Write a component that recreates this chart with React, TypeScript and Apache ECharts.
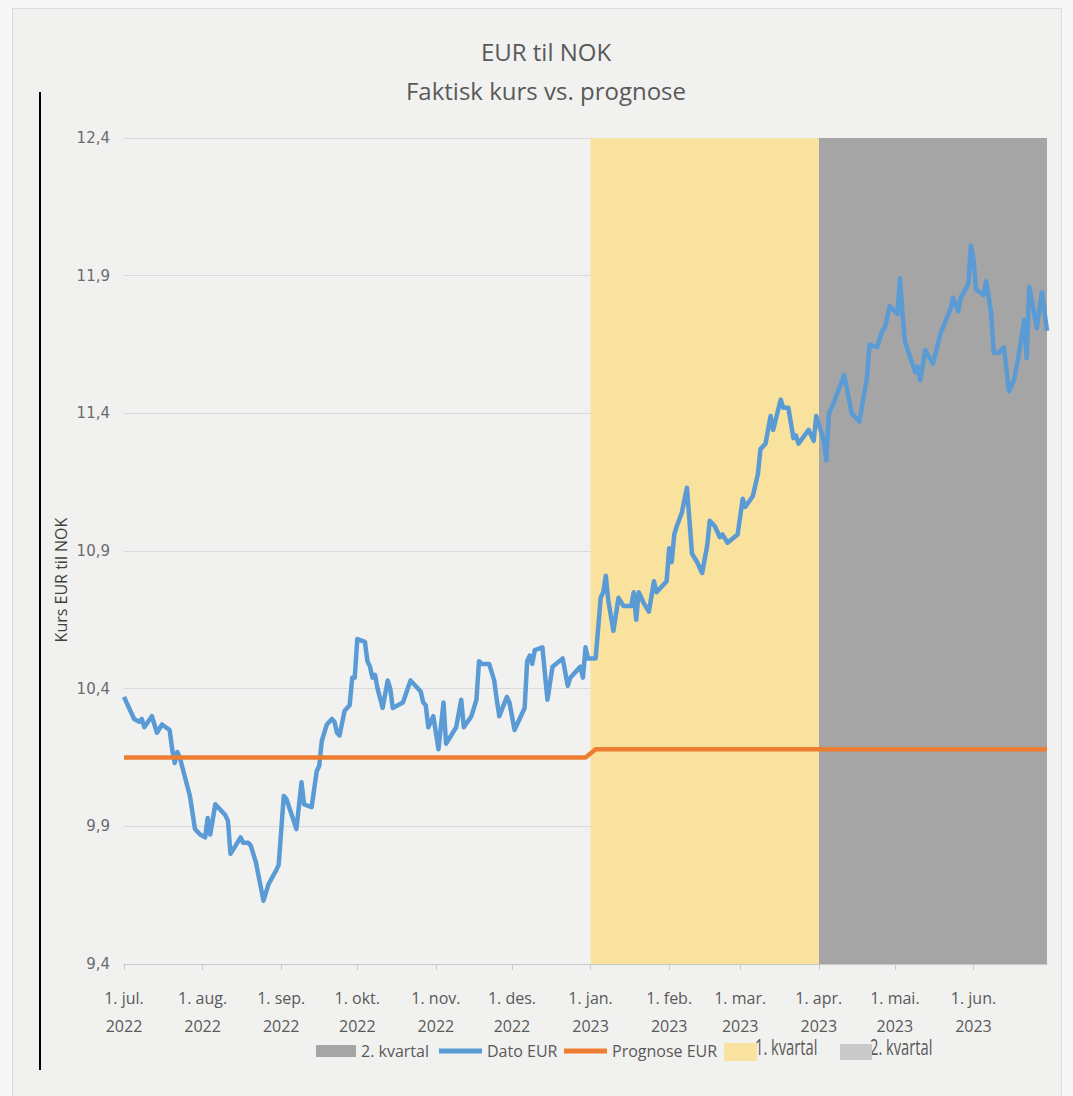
import React, { useEffect, useRef } from 'react';
import * as echarts from 'echarts';

// ---- data ----
const datoDates = [
  '2022-07-01','2022-07-03','2022-07-05','2022-07-07','2022-07-08','2022-07-09','2022-07-12','2022-07-14','2022-07-16','2022-07-19',
  '2022-07-20','2022-07-21','2022-07-22','2022-07-23','2022-07-25','2022-07-27','2022-07-29','2022-07-31','2022-08-02','2022-08-03',
  '2022-08-04','2022-08-06','2022-08-10','2022-08-11','2022-08-12','2022-08-16','2022-08-17','2022-08-19','2022-08-20','2022-08-22',
  '2022-08-25','2022-08-27','2022-08-30','2022-08-31','2022-09-02','2022-09-03','2022-09-07','2022-09-09','2022-09-10','2022-09-13',
  '2022-09-15','2022-09-16','2022-09-17','2022-09-19','2022-09-21','2022-09-22','2022-09-23','2022-09-24','2022-09-26','2022-09-28',
  '2022-09-29','2022-09-30','2022-10-01','2022-10-04','2022-10-05','2022-10-06','2022-10-07','2022-10-08','2022-10-09','2022-10-11',
  '2022-10-13','2022-10-14','2022-10-15','2022-10-17','2022-10-19','2022-10-22','2022-10-24','2022-10-26','2022-10-27','2022-10-28',
  '2022-10-29','2022-10-31','2022-11-02','2022-11-04','2022-11-05','2022-11-07','2022-11-09','2022-11-11','2022-11-12','2022-11-15',
  '2022-11-17','2022-11-18','2022-11-19','2022-11-22','2022-11-24','2022-11-25','2022-11-26','2022-11-29','2022-11-30','2022-12-02',
  '2022-12-04','2022-12-06','2022-12-07','2022-12-08','2022-12-09','2022-12-10','2022-12-13','2022-12-15','2022-12-17','2022-12-21',
  '2022-12-23','2022-12-24','2022-12-27','2022-12-28','2022-12-29','2022-12-30','2022-12-31','2023-01-03','2023-01-05','2023-01-06',
  '2023-01-07','2023-01-08','2023-01-10','2023-01-12','2023-01-14','2023-01-17','2023-01-18','2023-01-19','2023-01-20','2023-01-22',
  '2023-01-24','2023-01-26','2023-01-27','2023-01-31','2023-02-01','2023-02-02','2023-02-03','2023-02-04','2023-02-06','2023-02-08',
  '2023-02-10','2023-02-12','2023-02-14','2023-02-16','2023-02-17','2023-02-19','2023-02-21','2023-02-22','2023-02-24','2023-02-28',
  '2023-03-02','2023-03-03','2023-03-06','2023-03-08','2023-03-09','2023-03-11','2023-03-13','2023-03-14','2023-03-17','2023-03-18',
  '2023-03-20','2023-03-22','2023-03-23','2023-03-24','2023-03-28','2023-03-30','2023-03-31','2023-04-03','2023-04-04','2023-04-05',
  '2023-04-07','2023-04-11','2023-04-14','2023-04-17','2023-04-20','2023-04-21','2023-04-24','2023-04-26','2023-04-27','2023-04-29',
  '2023-05-02','2023-05-03','2023-05-04','2023-05-05','2023-05-09','2023-05-10','2023-05-11','2023-05-13','2023-05-16','2023-05-19',
  '2023-05-23','2023-05-24','2023-05-26','2023-05-27','2023-05-30','2023-05-31','2023-06-01','2023-06-02','2023-06-05','2023-06-06',
  '2023-06-08','2023-06-09','2023-06-11','2023-06-13','2023-06-15','2023-06-17','2023-06-19','2023-06-21','2023-06-22','2023-06-23',
  '2023-06-26','2023-06-28','2023-06-30'
];
const datoValues = [
  10.37,10.33,10.29,10.28,10.29,10.26,10.30,10.24,10.27,10.25,
  10.18,10.13,10.17,10.15,10.08,10.01,9.89,9.87,9.86,9.93,
  9.87,9.98,9.94,9.92,9.80,9.86,9.84,9.84,9.83,9.77,
  9.63,9.69,9.74,9.76,10.01,10.00,9.89,10.06,9.98,9.97,
  10.10,10.12,10.21,10.27,10.29,10.28,10.24,10.23,10.32,10.34,
  10.44,10.44,10.58,10.57,10.50,10.48,10.44,10.45,10.40,10.33,
  10.43,10.40,10.33,10.34,10.35,10.43,10.41,10.39,10.35,10.34,
  10.26,10.30,10.18,10.35,10.20,10.23,10.26,10.36,10.26,10.30,
  10.36,10.50,10.49,10.49,10.43,10.36,10.30,10.37,10.35,10.25,
  10.29,10.33,10.50,10.52,10.49,10.54,10.55,10.36,10.48,10.51,
  10.41,10.44,10.47,10.48,10.44,10.55,10.51,10.51,10.73,10.75,
  10.81,10.72,10.61,10.73,10.70,10.70,10.75,10.65,10.75,10.71,
  10.68,10.79,10.75,10.79,10.91,10.86,10.96,10.99,11.04,11.13,
  10.89,10.86,10.82,10.92,11.01,10.99,10.95,10.96,10.93,10.96,
  11.09,11.06,11.10,11.18,11.27,11.29,11.39,11.34,11.45,11.42,
  11.42,11.31,11.32,11.29,11.34,11.30,11.39,11.30,11.23,11.40,
  11.44,11.54,11.40,11.37,11.53,11.65,11.64,11.70,11.71,11.79,
  11.76,11.89,11.76,11.66,11.55,11.57,11.52,11.63,11.58,11.69,
  11.78,11.82,11.77,11.82,11.87,12.01,11.96,11.85,11.83,11.88,
  11.76,11.62,11.62,11.64,11.48,11.52,11.62,11.74,11.60,11.86,
  11.71,11.84,11.70
];
const prognoseDates = ['2022-07-01', '2022-12-30', '2023-01-03', '2023-06-30'];
const prognoseValues = [10.15, 10.15, 10.18, 10.18];
const kvartal1Dates = ['2023-01-01', '2023-04-01'];
const kvartal1Values = [12.4, 12.4];
const kvartal2Dates = ['2023-04-01', '2023-06-30'];
const kvartal2Values = [12.4, 12.4];
const monthLabels = ['jan.', 'feb.', 'mar.', 'apr.', 'mai.', 'jun.', 'jul.', 'aug.', 'sep.', 'okt.', 'nov.', 'des.'];
const xMin = '2022-07-01';
const xMax = '2023-06-30';
const yMin = 9.4;
const yMax = 12.4;
const yStep = 0.5;

const zip = (ds: string[], vs: number[]) => ds.map((d, i) => [d, vs[i]]);

const FONT = "'Open Sans', 'Noto Sans', sans-serif";
const DAY = 24 * 3600 * 1000;

export default function App() {
  const ref = useRef<HTMLDivElement>(null);
  useEffect(() => {
    const chart = echarts.init(ref.current!, null, { renderer: 'svg' });
    const lineLegend = (left: number, name: string) => ({
      left, top: 1038, itemWidth: 43, itemHeight: 5, itemGap: 0,
      textStyle: { fontFamily: FONT, fontSize: 16, color: '#595959' },
      data: [{ name, icon: 'rect' }],
    });
    const option: any = {
      animation: false,
      backgroundColor: 'transparent',
      graphic: [
        { type: 'line', shape: { x1: 40, y1: 92, x2: 40, y2: 1070 }, style: { stroke: '#000', lineWidth: 2 } },
        {
          type: 'text', x: 546, y: 51,
          style: { text: 'EUR til NOK', fontSize: 24, fontFamily: FONT, fill: '#595959', align: 'center', verticalAlign: 'middle' },
        },
        {
          type: 'text', x: 546, y: 90,
          style: { text: 'Faktisk kurs vs. prognose', fontSize: 24, fontFamily: FONT, fill: '#595959', align: 'center', verticalAlign: 'middle' },
        },
        {
          type: 'text', x: 61, y: 580, rotation: Math.PI / 2,
          style: { text: 'Kurs EUR til NOK', fontSize: 16, fontFamily: FONT, fill: '#404040', align: 'center', verticalAlign: 'middle' },
        },
        {
          type: 'text', x: 755, y: 1047, scaleX: 0.7,
          style: { text: '1. kvartal', fontSize: 21, fontFamily: FONT, fill: '#595959', align: 'left', verticalAlign: 'middle' },
        },
        {
          type: 'text', x: 870, y: 1047, scaleX: 0.7,
          style: { text: '2. kvartal', fontSize: 21, fontFamily: FONT, fill: '#595959', align: 'left', verticalAlign: 'middle' },
        },
      ],
      grid: { left: 124, right: 26, top: 138, bottom: 132, containLabel: false },
      legend: [
        {
          left: 311, top: 1038, itemWidth: 40, itemHeight: 12,
          textStyle: { fontFamily: FONT, fontSize: 16, color: '#595959' },
          data: [{ name: '2. kvartal', icon: 'rect' }],
        },
        lineLegend(434, 'Dato EUR'),
        lineLegend(559, 'Prognose EUR'),
        {
          left: 719, top: 1038, itemWidth: 33, itemHeight: 18,
          formatter: () => '',
          textStyle: { fontSize: 1 },
          data: [{ name: '1. kvartal', icon: 'rect' }],
        },
        {
          left: 835, top: 1039, itemWidth: 32, itemHeight: 16,
          formatter: () => '',
          textStyle: { fontSize: 1 },
          data: [{ name: '2. kvartal ', icon: 'rect' }],
        },
      ],
      xAxis: {
        type: 'time',
        min: xMin,
        max: xMax,
        minInterval: 28 * DAY,
        maxInterval: 31 * DAY,
        splitLine: { show: false },
        axisLine: { show: true, lineStyle: { color: '#c8c8c8', width: 1 } },
        axisTick: { show: true, length: 6, lineStyle: { color: '#c8c8c8' } },
        axisLabel: {
          show: true,
          margin: 20,
          fontFamily: FONT,
          fontSize: 16,
          lineHeight: 28,
          color: '#595959',
          formatter: (v: number) => {
            const d = new Date(v);
            return `1. ${monthLabels[d.getMonth()]}\n${d.getFullYear()}`;
          },
        },
      },
      yAxis: {
        type: 'value',
        min: yMin,
        max: yMax,
        interval: yStep,
        axisLine: { show: false },
        axisTick: { show: false },
        splitLine: { lineStyle: { color: '#d9d9d9', width: 1 } },
        axisLabel: {
          margin: 14,
          fontFamily: "'DejaVu Sans', sans-serif",
          fontSize: 15,
          color: '#6b6b6b',
          formatter: (v: number) => v.toFixed(1).replace('.', ','),
        },
      },
      series: [
        {
          name: '2. kvartal', type: 'line', data: zip(kvartal2Dates, kvartal2Values),
          symbol: 'none', silent: true, z: 1,
          itemStyle: { color: '#a5a5a5' },
          lineStyle: { width: 0, color: '#a5a5a5' },
          areaStyle: { color: '#a5a5a5', opacity: 1, origin: 'start' },
        },
        {
          name: 'Dato EUR', type: 'line', data: zip(datoDates, datoValues),
          symbol: 'none', z: 3,
          itemStyle: { color: '#5b9bd5' },
          lineStyle: { width: 4.5, color: '#5b9bd5', join: 'round' },
        },
        {
          name: 'Prognose EUR', type: 'line', data: zip(prognoseDates, prognoseValues),
          symbol: 'none', z: 4,
          itemStyle: { color: '#ed7d31' },
          lineStyle: { width: 4.5, color: '#ed7d31' },
        },
        {
          name: '1. kvartal', type: 'line', data: zip(kvartal1Dates, kvartal1Values),
          symbol: 'none', silent: true, z: 1,
          itemStyle: { color: '#f9e19e' },
          lineStyle: { width: 0, color: '#f9e19e' },
          areaStyle: { color: '#f9e19e', opacity: 1, origin: 'start' },
        },
        {
          name: '2. kvartal ', type: 'line', data: [],
          symbol: 'none', z: 1,
          itemStyle: { color: '#c9c9c9' },
          lineStyle: { width: 0, color: '#c9c9c9' },
        },
      ],
    };
    chart.setOption(option);
    return () => chart.dispose();
  }, []);
  return (
    <div style={{ position: 'absolute', left: 0, top: 0, width: 1073, height: 1096, background: '#f7f7f7', overflow: 'hidden' }}>
      <div style={{ position: 'absolute', left: 12, top: 8, width: 1050, height: 1100, background: '#f1f1ef', border: '1px solid #dcdcdc', boxSizing: 'border-box' }} />
      <div ref={ref} style={{ position: 'absolute', left: 0, top: 0, width: 1073, height: 1096 }} />
    </div>
  );
}
